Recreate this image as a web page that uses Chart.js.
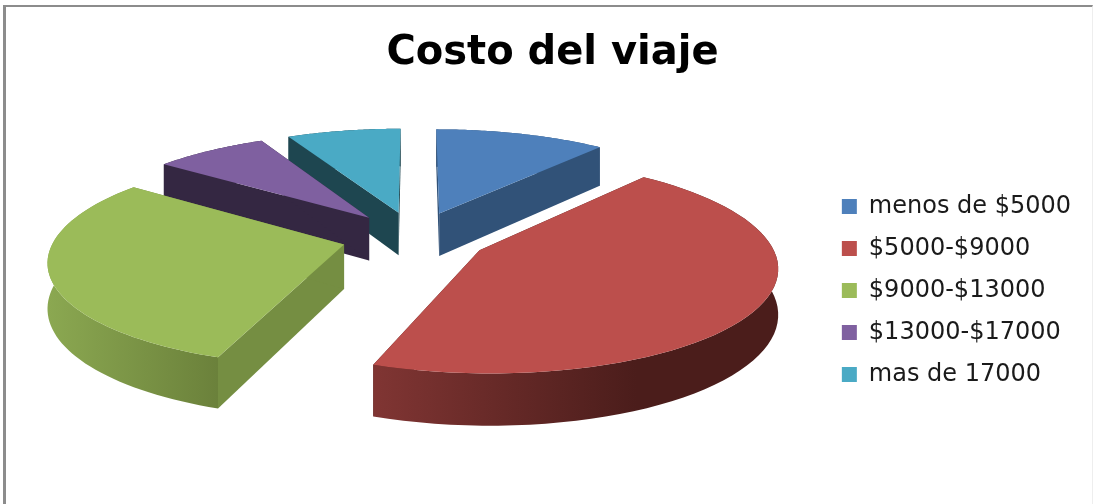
<!DOCTYPE html>
<html>
<head>
<meta charset="utf-8">
<title>Costo del viaje</title>
<script src="https://cdn.jsdelivr.net/npm/chart.js@4/dist/chart.umd.min.js"></script>
<style>
html, body { margin: 0; padding: 0; background: #fff; }
#wrap { position: relative; width: 1099px; height: 504px; overflow: hidden; }
#frame {
    position: absolute; left: 3px; top: 5px; width: 1086px; height: 497px;
    border-left: 3px solid #8c8c8c; border-top: 2px solid #8c8c8c;
    border-right: 1px solid #eeeeee; border-bottom: 1px solid #d9d9d9;
    pointer-events: none;
}
</style>
</head>
<body>
<div id="wrap">
    <canvas id="costChart" width="1099" height="504"></canvas>
    <div id="frame"></div>
</div>
<script>
const categories = ['menos de $5000', '$5000-$9000', '$9000-$13000', '$13000-$17000', 'mas de 17000'];
const trips = [3, 12, 8, 2, 2];

const topColors = ['#4e80bb', '#bc4f4c', '#9bbb59', '#7f60a0', '#4aaac5'];
const wallColors = ['#315278', '#4b1d1b', '#758e42', '#342742', '#1e4650'];
const rimLight = ['#315278', '#803533', '#8ba851', '#342742', '#1e4650'];
const rimDark = ['#315278', '#4b1d1b', '#6b813b', '#342742', '#1e4650'];
const rimFade = [1, 0.65, 1, 1, 1];
const explode = 47;

// the flat pie from chart.js gets tilted with this perspective
const rimX = 289, rimY = 102, depth = 44, persp = 0.14, liftX = -9, liftY = -58;

const tiltedPie = {
    id: 'tiltedPie',
    beforeDatasetDraw(chart) {
        const ctx = chart.ctx;
        const arcs = chart.getDatasetMeta(0).data;
        const order = arcs.map((a, i) => i).sort((i, j) => midY(arcs[i]) - midY(arcs[j]));
        order.forEach(i => drawSlice(ctx, arcs[i], i));
        return false; // the normal flat arcs are not wanted
    }
};

function midY(arc) {
    return Math.sin((arc.startAngle + arc.endAngle) / 2);
}

function project(arc, angle, rho) {
    const mid = (arc.startAngle + arc.endAngle) / 2;
    const off = arc.options.offset / arc.outerRadius;
    const u = Math.cos(angle) * rho + Math.cos(mid) * off;
    const v = Math.sin(angle) * rho + Math.sin(mid) * off;
    const p = 1 / (1 - persp * v);
    return {
        x: arc.x + liftX + u * rimX * p,
        y: arc.y + liftY + v * rimY * p,
        drop: depth * p
    };
}

function rimPoints(arc) {
    const pts = [];
    const steps = 60;
    for (let s = 0; s <= steps; s++) {
        pts.push(project(arc, arc.startAngle + (arc.endAngle - arc.startAngle) * s / steps, 1));
    }
    return pts;
}

function drawSlice(ctx, arc, i) {
    const apex = project(arc, arc.startAngle, 0);
    const pts = rimPoints(arc);
    const first = pts[0], last = pts[pts.length - 1];

    ctx.save();
    ctx.lineJoin = 'round';

    // radial walls
    ctx.fillStyle = wallColors[i];
    [first, last].forEach(e => {
        ctx.beginPath();
        ctx.moveTo(apex.x, apex.y);
        ctx.lineTo(e.x, e.y);
        ctx.lineTo(e.x, e.y + e.drop);
        ctx.lineTo(apex.x, apex.y + apex.drop);
        ctx.closePath();
        ctx.fill();
    });

    // outer wall
    const xs = pts.map(q => q.x);
    const grad = ctx.createLinearGradient(Math.min(...xs), 0, Math.max(...xs), 0);
    grad.addColorStop(0, rimLight[i]);
    grad.addColorStop(rimFade[i], rimDark[i]);
    grad.addColorStop(1, rimDark[i]);
    ctx.fillStyle = grad;
    ctx.beginPath();
    pts.forEach((q, n) => n ? ctx.lineTo(q.x, q.y) : ctx.moveTo(q.x, q.y));
    pts.slice().reverse().forEach(q => ctx.lineTo(q.x, q.y + q.drop));
    ctx.closePath();
    ctx.fill();

    // top face
    ctx.fillStyle = topColors[i];
    ctx.beginPath();
    ctx.moveTo(apex.x, apex.y);
    pts.forEach(q => ctx.lineTo(q.x, q.y));
    ctx.closePath();
    ctx.fill();
    ctx.restore();
}

new Chart(document.getElementById('costChart').getContext('2d'), {
    type: 'pie',
    data: {
        labels: categories,
        datasets: [{
            data: trips,
            backgroundColor: topColors,
            offset: explode,
            borderWidth: 0
        }]
    },
    options: {
        responsive: false,
        animation: false,
        layout: { padding: { right: 18, left: 24, top: 0, bottom: 0 } },
        plugins: {
            title: {
                display: true,
                text: 'Costo del viaje',
                color: '#000000',
                font: { family: '"DejaVu Sans"', size: 40, weight: 'bold' },
                padding: { top: 30, bottom: 8 }
            },
            legend: {
                position: 'right',
                title: { display: true, text: '', font: { size: 16 }, padding: { top: 58, bottom: 0 } },
                labels: {
                    color: '#1a1a1a',
                    font: { family: '"DejaVu Sans"', size: 24 },
                    boxWidth: 15,
                    boxHeight: 15,
                    padding: 18
                }
            },
            tooltip: { enabled: false }
        }
    },
    plugins: [tiltedPie]
});
</script>
</body>
</html>
